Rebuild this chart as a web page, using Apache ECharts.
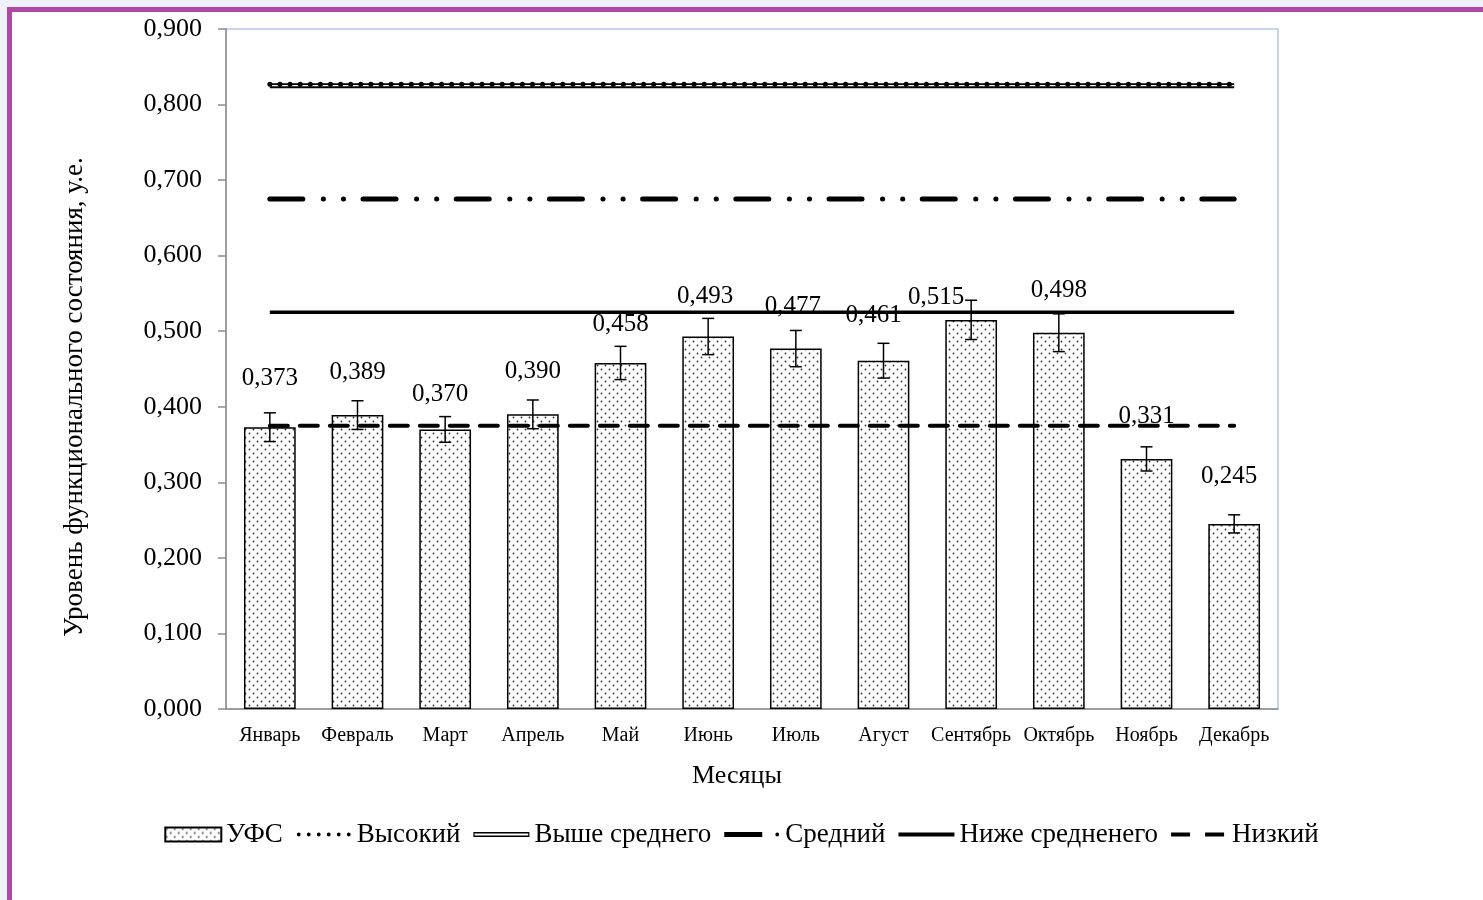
<!DOCTYPE html>
<html>
<head>
<meta charset="utf-8">
<script src="https://cdn.jsdelivr.net/npm/echarts@6/dist/echarts.min.js"></script>
<style>
    html, body {
        margin: 0;
        padding: 0;
        width: 1483px;
        height: 900px;
        overflow: hidden;
        background: #eef1f5;
    }
    .frame {
        position: absolute;
        left: 7px;
        top: 7px;
        width: 1483px;
        height: 900px;
        background: #ffffff;
        border-left: 5px solid #b048a4;
        border-top: 5px solid #b048a4;
    }
    #chart {
        position: absolute;
        left: 0;
        top: 0;
        width: 1483px;
        height: 900px;
    }
</style>
</head>
<body>
<div class="frame"></div>
<div id="chart"></div>
<script>
const months = ["Январь", "Февраль", "Март", "Апрель", "Май", "Июнь", "Июль", "Агуст", "Сентябрь", "Октябрь", "Ноябрь", "Декабрь"];
const ufsValues = [0.373, 0.389, 0.370, 0.390, 0.458, 0.493, 0.477, 0.461, 0.515, 0.498, 0.331, 0.245];
const ufsErrors = [0.019, 0.019, 0.017, 0.019, 0.022, 0.024, 0.024, 0.023, 0.026, 0.025, 0.016, 0.012];
const yTicks = [0, 0.1, 0.2, 0.3, 0.4, 0.5, 0.6, 0.7, 0.8, 0.9];

// уровни функционального состояния
const levelHigh = 0.827;
const levelAboveAvg = 0.825;
const levelAvg = 0.675;
const levelBelowAvg = 0.525;
const levelLow = 0.375;

// ручные сдвиги подписей (как в исходной диаграмме), px
const labelShift = [[0, -6], [0, 0], [-5, 7], [0, 0], [0, 4], [-3, 2], [-3, 0], [-10, -3], [-35, 20], [0, 0], [0, 0], [-5, -5]];

const FONT = "Liberation Serif";

const fmt = v => v.toFixed(3).replace(".", ",");

function makeDotPattern() {
    const c = document.createElement("canvas");
    c.width = 8;
    c.height = 8;
    const ctx = c.getContext("2d");
    ctx.fillStyle = "#ffffff";
    ctx.fillRect(0, 0, 8, 8);
    ctx.fillStyle = "#333333";
    ctx.beginPath();
    ctx.arc(1.5, 1.5, 0.9, 0, Math.PI * 2);
    ctx.arc(5.5, 5.5, 0.9, 0, Math.PI * 2);
    ctx.fill();
    return c;
}

const dotPattern = { image: makeDotPattern(), repeat: "repeat" };

const flat = level => months.map(() => level);

const errData = months.map((m, i) => [i, ufsValues[i] - ufsErrors[i], ufsValues[i] + ufsErrors[i]]);

const barData = ufsValues.map((v, i) => ({
    value: v,
    label: { offset: labelShift[i] },
}));

function circle(cx, cy, r) {
    return `M${cx - r} ${cy} A${r} ${r} 0 1 0 ${cx + r} ${cy} A${r} ${r} 0 1 0 ${cx - r} ${cy} Z `;
}

const bounds = "M0 0 M56 14 ";
const iconDotted = "path://" + bounds + [3, 13, 23, 33, 43, 53].map(x => circle(x, 7, 1.9)).join("");
const iconDouble = "path://" + bounds + "M0 4.5 L58 4.5 L58 9.5 L0 9.5 Z M1.2 6 L1.2 8 L56.8 8 L56.8 6 Z";
const iconDashDot = "path://" + bounds + "M0 4.5 L38 4.5 L38 9.5 L0 9.5 Z " + circle(53, 7, 1.9);
const iconSolid = "path://" + bounds + "M0 5 L58 5 L58 9 L0 9 Z";
const iconDashed = "path://" + bounds + "M0 5 L19 5 L19 9 L0 9 Z M34 5 L53 5 L53 9 L34 9 Z";

const chart = echarts.init(document.getElementById("chart"), null, { renderer: "canvas" });

function levelLine(name, level, lineStyle, z) {
    return {
        type: "line",
        name: name,
        data: flat(level),
        symbol: "none",
        silent: true,
        z: z,
        itemStyle: { color: "#000" },
        lineStyle: Object.assign({ color: "#000" }, lineStyle),
    };
}

const option = {
    animation: false,
    backgroundColor: "transparent",
    textStyle: { fontFamily: FONT, color: "#000" },
    grid: {
        left: 226,
        top: 29,
        right: 205,
        bottom: 191,
        show: true,
        backgroundColor: "#fff",
        borderColor: "#b4c8ea",
        borderWidth: 1.5,
    },
    legend: {
        top: 816,
        left: "center",
        itemWidth: 56,
        itemHeight: 14,
        itemGap: 13,
        selectedMode: false,
        textStyle: { fontFamily: FONT, fontSize: 27, color: "#000" },
        data: [
            { name: "УФС", icon: "rect" },
            { name: "Высокий", icon: iconDotted },
            { name: "Выше среднего", icon: iconDouble },
            { name: "Средний", icon: iconDashDot },
            { name: "Ниже средненего", icon: iconSolid },
            { name: "Низкий", icon: iconDashed },
        ],
    },
    xAxis: {
        type: "category",
        data: months,
        name: "Месяцы",
        nameLocation: "middle",
        nameGap: 54,
        nameTextStyle: { fontFamily: FONT, fontSize: 26, color: "#000", padding: [0, 30, 0, 0] },
        axisLine: { lineStyle: { color: "#8c8c8c", width: 1.5 } },
        axisTick: { show: false },
        axisLabel: { fontFamily: FONT, fontSize: 20, color: "#000", margin: 17, interval: 0 },
    },
    yAxis: {
        type: "value",
        min: 0,
        max: 0.9,
        interval: 0.1,
        name: "Уровень функционального состояния, у.е.",
        nameLocation: "middle",
        nameGap: 138,
        nameTextStyle: { fontFamily: FONT, fontSize: 27, color: "#000", padding: [0, 56, 0, 0] },
        axisLine: { show: true, lineStyle: { color: "#8c8c8c", width: 1.5 } },
        axisTick: { show: true, inside: false, length: 8, lineStyle: { color: "#8c8c8c", width: 1.5 } },
        splitLine: { show: false },
        axisLabel: {
            fontFamily: FONT,
            fontSize: 26,
            color: "#000",
            margin: 24,
            formatter: v => fmt(v),
            customValues: yTicks,
        },
    },
    series: [
        {
            type: "bar",
            name: "УФС",
            data: barData,
            barWidth: "59%",
            z: 2,
            itemStyle: { color: dotPattern, borderColor: "#000", borderWidth: 1.5 },
            label: {
                show: true,
                position: "top",
                distance: 30,
                fontFamily: FONT,
                fontSize: 25,
                color: "#000",
                formatter: p => fmt(p.value),
            },
        },
        levelLine("Выше среднего", levelAboveAvg, { width: 5 }, 3),
        {
            type: "line",
            name: "__inner",
            data: flat(levelAboveAvg),
            symbol: "none",
            silent: true,
            z: 3,
            lineStyle: { color: "#fff", width: 1.4 },
        },
        levelLine("Высокий", levelHigh, { width: 5, type: [0.1, 10], cap: "round" }, 4),
        levelLine("Средний", levelAvg, { width: 5, type: [33, 20.5, 0.1, 20, 0.1, 19.5], cap: "round" }, 3),
        levelLine("Ниже средненего", levelBelowAvg, { width: 3.5 }, 3),
        levelLine("Низкий", levelLow, { width: 4, type: [18, 12], cap: "round" }, 5),
        {
            type: "custom",
            name: "err",
            data: errData,
            z: 6,
            silent: true,
            encode: { x: 0, y: [1, 2] },
            renderItem(params, api) {
                const x = api.value(0);
                const lo = api.coord([x, api.value(1)]);
                const hi = api.coord([x, api.value(2)]);
                const half = 6;
                const style = { stroke: "#000", lineWidth: 1.5 };
                return {
                    type: "group",
                    children: [
                        { type: "line", shape: { x1: lo[0], y1: lo[1], x2: hi[0], y2: hi[1] }, style },
                        { type: "line", shape: { x1: hi[0] - half, y1: hi[1], x2: hi[0] + half, y2: hi[1] }, style },
                        { type: "line", shape: { x1: lo[0] - half, y1: lo[1], x2: lo[0] + half, y2: lo[1] }, style },
                    ],
                };
            },
        },
    ],
};

chart.setOption(option);
</script>
</body>
</html>
